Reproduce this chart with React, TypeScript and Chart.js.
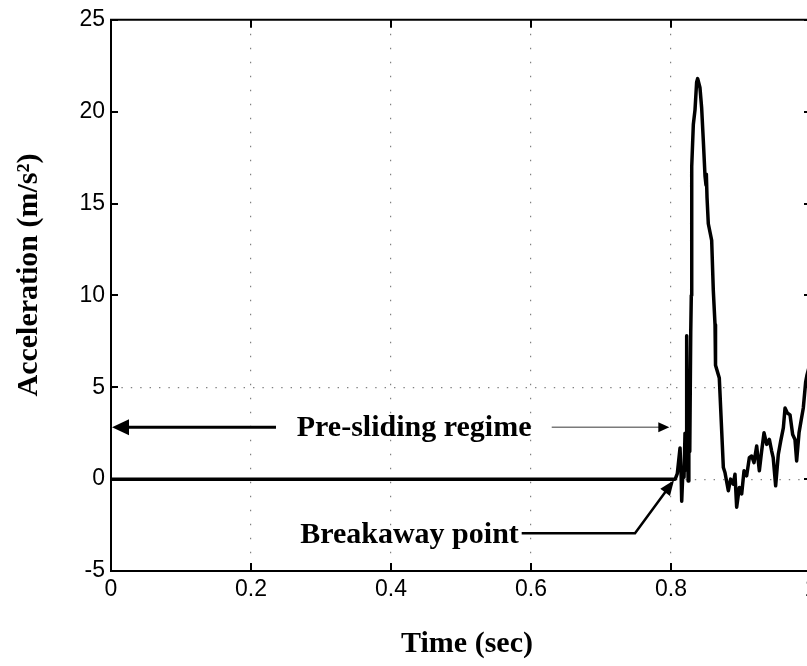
import React, { useEffect, useRef } from "react";
import { Chart, registerables } from "chart.js";

Chart.register(...registerables);

// ---- data ----
const timeSec = [
  0, 0.806, 0.809, 0.8129, 0.8145, 0.8153, 0.8171, 0.8186, 0.82, 0.8215,
  0.8224, 0.8233, 0.8245, 0.8255, 0.8268, 0.8282, 0.829, 0.8296, 0.8319, 0.8343,
  0.8366, 0.8381, 0.8414, 0.8438, 0.8462, 0.8486, 0.85, 0.8505, 0.8515, 0.8533,
  0.8581, 0.8604, 0.8629, 0.8636, 0.869, 0.8748, 0.8771, 0.8819, 0.8852, 0.889,
  0.8914, 0.8938, 0.8976, 0.901, 0.9043, 0.9081, 0.9119, 0.9152, 0.9186, 0.9224,
  0.9262, 0.9295, 0.9329, 0.9367, 0.9405, 0.9438, 0.946, 0.9495, 0.9533, 0.9567,
  0.9605, 0.9629, 0.9662, 0.97, 0.9738, 0.9771, 0.9795, 0.9829, 0.9857, 0.989,
  0.9924, 0.9943, 1.0,
];
const accel = [
  0, 0, 0.3, 1.7, 0.2, -1.2, 0.5, 0.1, 2.5, 0.5,
  7.8, 3.0, -0.1, 4.5, 1.5, 8.0, 10.0, 17.0, 19.3, 20.1,
  21.6, 21.8, 21.3, 20.2, 18.4, 16.5, 16.0, 16.6, 15.3, 13.9,
  13.0, 10.3, 8.4, 6.2, 5.5, 0.63, 0.36, -0.63, 0.0, -0.27,
  0.27, -1.53, -0.45, -0.8, 0.45, 0.18, 1.17, 1.26, 0.9, 1.8,
  0.45, 1.53, 2.52, 1.89, 2.16, 1.53, 1.17, -0.36, 1.35, 2.07,
  2.79, 3.87, 3.6, 3.5, 2.43, 2.16, 0.99, 2.52, 3.15, 3.87,
  5.3, 5.67, 6.5,
];
const xTickLabels = ["0", "0.2", "0.4", "0.6", "0.8", "1"];
const yTickLabels = ["-5", "0", "5", "10", "15", "20", "25"];
const xTitle = "Time (sec)";
const yTitle = "Acceleration (m/s\u00B2)";
const preSlidingLabel = "Pre-sliding regime";
const breakawayLabel = "Breakaway point";
const gridYValues = [0, 5];

const SERIF_BOLD = "bold 30px 'Liberation Serif', 'Times New Roman', serif";
const SANS = "'Liberation Sans', Arial, Helvetica, sans-serif";

function arrowHead(
  ctx: CanvasRenderingContext2D,
  tipX: number,
  tipY: number,
  fromX: number,
  fromY: number,
  len: number,
  halfW: number
) {
  const ang = Math.atan2(tipY - fromY, tipX - fromX);
  const bx = tipX - len * Math.cos(ang);
  const by = tipY - len * Math.sin(ang);
  const nx = -Math.sin(ang);
  const ny = Math.cos(ang);
  ctx.beginPath();
  ctx.moveTo(tipX, tipY);
  ctx.lineTo(bx + nx * halfW, by + ny * halfW);
  ctx.lineTo(bx - nx * halfW, by - ny * halfW);
  ctx.closePath();
  ctx.fill();
}

const decorPlugin = {
  id: "decor",
  afterDraw(chart: any) {
    const ctx: CanvasRenderingContext2D = chart.ctx;
    const xs = chart.scales.x;
    const ys = chart.scales.y;
    const area = chart.chartArea;
    const px = (v: number) => xs.getPixelForValue(v);
    const py = (v: number) => ys.getPixelForValue(v);
    ctx.save();
    ctx.strokeStyle = "#000";
    ctx.fillStyle = "#000";
    ctx.lineCap = "butt";

    // box (top / right) and inward ticks
    ctx.lineWidth = 2;
    ctx.beginPath();
    ctx.moveTo(area.left - 1, area.top);
    ctx.lineTo(area.right, area.top);
    ctx.moveTo(area.right, area.top);
    ctx.lineTo(area.right, area.bottom);
    ctx.stroke();
    ctx.lineWidth = 2;
    ctx.beginPath();
    xs.ticks.forEach((t: any) => {
      const x = Math.round(px(t.value));
      ctx.moveTo(x, area.bottom);
      ctx.lineTo(x, area.bottom - 8);
      ctx.moveTo(x, area.top);
      ctx.lineTo(x, area.top + 8);
    });
    ys.ticks.forEach((t: any) => {
      const y = Math.round(py(t.value));
      ctx.moveTo(area.left, y);
      ctx.lineTo(area.left + 7, y);
      ctx.moveTo(area.right, y);
      ctx.lineTo(area.right - 7, y);
    });
    ctx.stroke();

    // Pre-sliding regime arrows
    const yArrow = py(2.82);
    ctx.lineWidth = 3;
    ctx.beginPath();
    ctx.moveTo(px(0.2357), yArrow);
    ctx.lineTo(px(0) + 14, yArrow);
    ctx.stroke();
    arrowHead(ctx, px(0) + 1, yArrow, px(0.2357), yArrow, 17, 8);

    ctx.strokeStyle = "#7a7a7a";
    ctx.lineWidth = 1.5;
    ctx.beginPath();
    ctx.moveTo(px(0.6296), yArrow);
    ctx.lineTo(px(0.7976) - 8, yArrow);
    ctx.stroke();
    ctx.fillStyle = "#000";
    arrowHead(ctx, px(0.7976), yArrow, px(0.6296), yArrow, 11, 5);

    // Breakaway point arrow
    ctx.strokeStyle = "#000";
    ctx.lineWidth = 2.5;
    ctx.lineJoin = "miter";
    const kx = px(0.7486);
    const ky = py(-2.95);
    const tx = px(0.8043);
    const ty = py(-0.06);
    const ang = Math.atan2(ty - ky, tx - kx);
    ctx.beginPath();
    ctx.moveTo(px(0.5867), ky);
    ctx.lineTo(kx, ky);
    ctx.lineTo(tx - 10 * Math.cos(ang), ty - 10 * Math.sin(ang));
    ctx.stroke();
    arrowHead(ctx, tx, ty, kx, ky, 15, 6);

    // annotation texts
    ctx.font = SERIF_BOLD;
    ctx.textAlign = "center";
    ctx.textBaseline = "alphabetic";
    ctx.fillText(preSlidingLabel, px(0.433), py(2.34));
    ctx.fillText(breakawayLabel, px(0.4264), py(-3.49));

    // axis titles
    ctx.fillText(xTitle, 467, 652);
    ctx.save();
    ctx.translate(37, 275);
    ctx.rotate(-Math.PI / 2);
    ctx.fillText(yTitle, 0, 0);
    ctx.restore();

    ctx.restore();
  },
};

export default function App() {
  const canvasRef = useRef<HTMLCanvasElement | null>(null);

  useEffect(() => {
    document.body.style.margin = "0";
    const canvas = canvasRef.current;
    if (!canvas) return;
    const points = timeSec.map((t, i) => ({ x: t, y: accel[i] }));
    const chart = new Chart(canvas, {
      type: "line",
      data: {
        datasets: [
          {
            label: "Acceleration",
            data: points,
            borderColor: "#000",
            borderWidth: 3.5,
            pointRadius: 0,
            tension: 0,
            borderJoinStyle: "round",
            borderCapStyle: "round",
            fill: false,
          },
        ],
      },
      options: {
        animation: false,
        responsive: false,
        devicePixelRatio: 1,
        layout: { padding: { left: 0, top: 15, right: 19, bottom: 0 } },
        plugins: {
          legend: { display: false },
          tooltip: { enabled: false },
        },
        scales: {
          x: {
            type: "linear",
            min: 0,
            max: 1,
            ticks: {
              stepSize: 0.2,
              autoSkip: false,
              maxRotation: 0,
              padding: 5,
              color: "#000",
              font: { family: SANS, size: 23 },
              callback: (_v: any, i: number) => xTickLabels[i],
            },
            grid: {
              color: (c: any) =>
                c.tick && c.tick.value > 0.01 && c.tick.value < 0.99
                  ? "#808080"
                  : "rgba(0,0,0,0)",
              lineWidth: 1.2,
              drawTicks: false,
            },
            border: { display: true, color: "#000", width: 2, dash: [1.4, 12.6] },
            afterFit: (s: any) => {
              s.height = 95;
            },
          },
          y: {
            type: "linear",
            min: -5,
            max: 25,
            ticks: {
              stepSize: 5,
              autoSkip: false,
              padding: 6,
              color: "#000",
              font: { family: SANS, size: 23 },
              callback: (_v: any, i: number) => yTickLabels[i],
            },
            grid: {
              color: (c: any) =>
                c.tick && gridYValues.includes(c.tick.value)
                  ? "#808080"
                  : "rgba(0,0,0,0)",
              lineWidth: 1.2,
              drawTicks: false,
            },
            border: { display: true, color: "#000", width: 2, dash: [1.4, 8] },
            afterFit: (s: any) => {
              s.width = 111;
            },
          },
        },
      },
      plugins: [decorPlugin],
    } as any);
    return () => chart.destroy();
  }, []);

  return (
    <div
      style={{
        position: "fixed",
        left: 0,
        top: 0,
        width: 807,
        height: 666,
        overflow: "hidden",
        background: "#fff",
      }}
    >
      <canvas ref={canvasRef} width={830} height={666} style={{ display: "block" }} />
    </div>
  );
}
